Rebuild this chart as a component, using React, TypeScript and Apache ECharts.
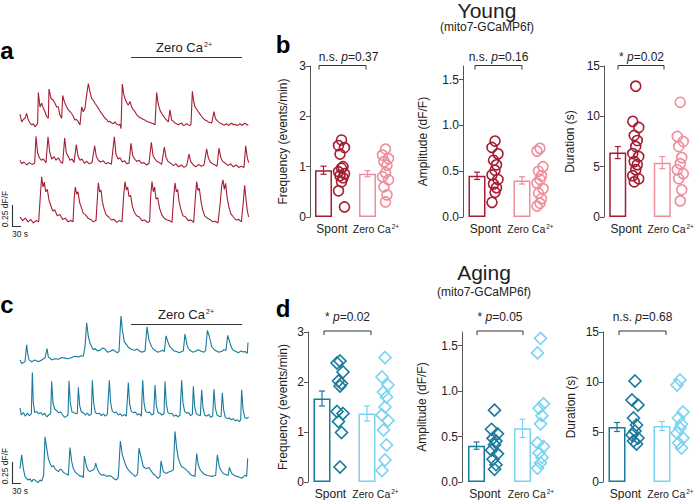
import React, { useEffect, useRef } from 'react';
import * as echarts from 'echarts';

const FONT = '"Liberation Sans", Arial, Helvetica, sans-serif';

const categories = ['Spont', 'Zero Ca2+'];

// ---- Traces: [time (s), dF/F] ----
const traceYoung1 = [[0,0.21],[5,0.08],[10,0.12],[15,0.14],[20,0.22],[25,0.11],[30,0.06],[35,0.03],[40,0.05],[45,0.0],[50,0.03],[53,0.06],[55,0.57],[60,0.33],[65,0.39],[70,0.31],[75,0.25],[80,0.17],[85,0.14],[87,0.63],[93,0.47],[100,0.44],[105,0.39],[110,0.33],[115,0.33],[120,0.19],[125,0.14],[128,0.52],[133,0.42],[140,0.33],[145,0.28],[150,0.25],[155,0.22],[160,0.17],[165,0.11],[170,0.12],[175,0.08],[180,0.03],[185,0.33],[190,0.25],[195,0.31],[200,0.53],[205,0.72],[210,0.58],[215,0.47],[220,0.44],[225,0.39],[230,0.35],[235,0.31],[240,0.26],[245,0.22],[250,0.18],[255,0.14],[260,0.12],[265,0.08],[270,0.09],[275,0.06],[280,0.05],[285,0.08],[290,0.04],[295,0.03],[300,0.04],[303,-0.03],[307,0.71],[311,0.55],[315,0.47],[320,0.4],[325,0.36],[330,0.42],[335,0.33],[340,0.28],[345,0.25],[350,0.2],[355,0.17],[360,0.15],[365,0.14],[370,0.12],[375,0.11],[380,0.09],[385,0.08],[390,0.07],[395,0.06],[400,0.05],[405,0.03],[410,0.57],[414,0.4],[417,0.33],[421,0.26],[425,0.22],[430,0.18],[435,0.14],[440,0.11],[445,0.08],[450,0.28],[455,0.11],[460,0.09],[465,0.06],[470,0.05],[475,0.03],[480,0.05],[485,0.06],[490,0.02],[495,0.03],[500,0.05],[505,0.03],[510,0.02],[513,0.04],[517,0.59],[521,0.42],[525,0.33],[530,0.29],[535,0.25],[540,0.21],[545,0.17],[550,0.14],[555,0.11],[560,0.1],[565,0.08],[570,0.07],[575,0.06],[582,0.25],[586,0.14],[590,0.11],[595,0.08],[600,0.06],[605,0.05],[610,0.03],[615,0.03],[620,0.05],[625,0.02],[630,0.04],[635,0.06],[640,0.03],[645,0.04],[650,0.02],[655,0.03],[660,0.05],[665,0.02],[670,0.04],[675,0.06],[680,0.03],[685,0.03]];

const traceYoung2 = [[0,0.08],[5,0.02],[12,0.05],[20,0.0],[28,0.04],[36,0.01],[44,0.03],[48,0.48],[53,0.2],[58,0.12],[64,0.08],[70,0.1],[78,0.04],[84,0.47],[89,0.22],[95,0.1],[102,0.14],[108,0.08],[115,0.12],[122,0.05],[128,0.03],[134,0.45],[139,0.2],[145,0.14],[150,0.08],[156,0.1],[162,0.04],[169,0.34],[174,0.15],[180,0.08],[186,0.1],[193,0.03],[200,0.06],[208,0.02],[216,0.04],[224,0.32],[229,0.14],[235,0.08],[242,0.05],[250,0.07],[258,0.02],[266,0.04],[274,0.01],[283,0.47],[288,0.18],[294,0.1],[300,0.12],[307,0.05],[314,0.07],[321,0.02],[327,0.03],[333,0.36],[338,0.16],[344,0.1],[350,0.06],[357,0.08],[364,0.03],[372,0.04],[380,0.0],[387,0.03],[394,0.38],[399,0.16],[405,0.1],[411,0.06],[418,0.04],[425,0.01],[433,0.3],[438,0.13],[444,0.06],[452,0.03],[460,-0.01],[468,0.02],[476,-0.03],[484,0.0],[492,-0.04],[500,-0.01],[507,0.18],[512,0.06],[520,0.0],[528,-0.03],[536,0.01],[544,-0.02],[552,0.0],[560,0.27],[565,0.12],[571,0.05],[578,0.02],[585,0.0],[591,-0.02],[597,0.28],[602,0.13],[608,0.06],[616,0.03],[624,-0.01],[632,0.02],[640,-0.03],[648,0.0],[656,-0.04],[664,-0.02],[672,-0.04],[677,0.32],[682,0.12],[686,0.04]];

const traceYoung3 = [[0,0.1],[8,0.04],[16,0.08],[24,0.02],[32,0.06],[40,0.0],[48,0.04],[56,0.02],[61,0.45],[65,0.77],[69,0.6],[73,0.68],[77,0.52],[82,0.56],[87,0.38],[92,0.3],[98,0.2],[104,0.22],[112,0.12],[120,0.14],[128,0.06],[136,0.08],[144,0.02],[152,0.04],[159,0.02],[163,0.45],[166,0.6],[170,0.48],[174,0.52],[179,0.34],[184,0.26],[190,0.16],[196,0.14],[204,0.08],[212,0.06],[220,0.02],[228,0.04],[232,0.4],[235,0.67],[239,0.52],[243,0.55],[247,0.36],[252,0.24],[258,0.14],[266,0.1],[274,0.05],[282,0.06],[290,0.01],[298,0.04],[306,0.02],[311,0.45],[315,0.69],[319,0.55],[323,0.6],[327,0.44],[332,0.46],[337,0.28],[343,0.18],[350,0.12],[358,0.1],[366,0.04],[374,0.05],[382,0.01],[389,0.03],[392,0.45],[396,0.69],[400,0.52],[404,0.6],[408,0.4],[413,0.42],[419,0.24],[425,0.14],[433,0.08],[441,0.05],[449,0.04],[456,0.01],[461,0.42],[465,0.67],[469,0.52],[473,0.56],[477,0.36],[483,0.22],[489,0.12],[497,0.1],[505,0.04],[513,0.05],[521,0.01],[526,0.42],[530,0.69],[534,0.54],[538,0.58],[543,0.36],[548,0.22],[554,0.12],[562,0.08],[570,0.06],[578,0.02],[586,0.03],[594,0.0],[601,0.35],[605,0.62],[609,0.72],[613,0.56],[617,0.66],[621,0.44],[626,0.28],[632,0.16],[640,0.1],[648,0.05],[656,0.06],[664,0.02],[670,0.35],[674,0.63],[678,0.4],[682,0.2],[686,0.1]];

const traceAging1 = [[0,0.03],[5,-0.03],[15,0],[20,0.28],[23,0.14],[27,0.03],[35,0],[45,0.03],[55,0],[65,0.03],[75,0.06],[81,0.22],[85,0.08],[95,0.03],[105,0.05],[115,0.04],[125,0.07],[135,0.06],[145,0.05],[155,0.07],[165,0.09],[175,0.08],[183,0.1],[190,0.09],[195,0.25],[200,0.65],[205,0.42],[210,0.31],[215,0.25],[220,0.2],[225,0.22],[232,0.18],[240,0.19],[248,0.23],[255,0.21],[262,0.16],[270,0.17],[278,0.2],[285,0.18],[291,0.15],[297,0.17],[301,0.58],[303,0.76],[307,0.53],[313,0.33],[320,0.28],[325,0.24],[330,0.22],[338,0.2],[345,0.19],[352,0.21],[360,0.17],[368,0.16],[375,0.18],[381,0.58],[387,0.36],[395,0.25],[400,0.21],[405,0.19],[412,0.16],[420,0.17],[427,0.19],[433,0.17],[438,0.43],[445,0.31],[450,0.25],[455,0.22],[462,0.18],[470,0.17],[478,0.15],[485,0.17],[490,0.18],[495,0.46],[501,0.28],[505,0.22],[510,0.19],[518,0.16],[525,0.17],[535,0.2],[545,0.17],[552,0.16],[557,0.19],[562,0.52],[568,0.42],[575,0.25],[580,0.22],[585,0.19],[595,0.16],[605,0.17],[612,0.2],[618,0.19],[623,0.44],[630,0.31],[635,0.23],[640,0.19],[648,0.17],[655,0.15],[663,0.18],[670,0.16],[675,0.17],[682,0.14],[684,0.32]];

const traceAging2 = [[0,0.12],[4,0.0],[10,0.04],[16,-0.02],[22,0.03],[28,-0.01],[34,0.02],[37,0.71],[40,0.2],[44,0.04],[50,0.06],[56,0.02],[62,0.04],[68,0.0],[74,0.03],[80,-0.03],[86,0.0],[92,0.02],[95,0.56],[99,0.2],[104,0.1],[110,0.07],[116,0.04],[122,0.05],[128,0.0],[134,-0.04],[140,-0.02],[144,0.0],[147,0.57],[151,0.2],[156,0.05],[162,0.04],[168,0.02],[172,0.03],[175,0.46],[179,0.16],[184,0.05],[190,0.04],[196,0.0],[202,0.03],[208,-0.01],[214,0.02],[217,0.58],[221,0.2],[226,0.04],[232,0.02],[238,0.03],[244,-0.01],[250,0.02],[256,-0.02],[262,0.01],[268,0.58],[272,0.2],[277,0.06],[283,0.04],[289,0.05],[295,0.0],[301,0.02],[307,-0.02],[313,0.01],[319,-0.02],[325,0.54],[329,0.18],[334,0.06],[340,0.04],[346,0.05],[352,0.0],[358,0.02],[364,-0.02],[368,0.58],[372,0.2],[377,0.06],[383,0.04],[389,0.05],[395,0.0],[401,0.02],[405,0.5],[409,0.16],[414,0.04],[420,0.03],[426,0.0],[432,0.02],[435,0.56],[439,0.18],[444,0.04],[450,0.02],[456,0.03],[462,-0.02],[468,0.0],[474,-0.03],[480,0.0],[485,0.58],[489,0.2],[494,0.06],[500,0.03],[506,0.04],[512,-0.01],[517,0.01],[520,0.48],[524,0.14],[529,0.02],[535,0.0],[541,-0.01],[545,0.42],[549,0.12],[554,0.0],[560,-0.02],[566,0.01],[572,-0.04],[578,-0.02],[582,0.43],[586,0.12],[591,0.0],[597,-0.02],[603,-0.03],[607,0.37],[611,0.08],[616,-0.04],[622,-0.06],[628,-0.05],[634,-0.08],[640,-0.06],[646,-0.1],[652,-0.08],[658,-0.11],[662,-0.08],[665,0.42],[669,0.1],[674,-0.04],[680,-0.06],[686,-0.03]];

const traceAging3 = [[0,0.19],[5,0.42],[10,0.19],[15,0.06],[20,0.02],[25,0],[30,0.02],[35,-0.03],[40,0.01],[45,0],[50,-0.03],[55,-0.04],[60,0.0],[65,-0.02],[71,0.08],[75,0.72],[80,0.53],[85,0.36],[90,0.28],[95,0.22],[100,0.24],[105,0.19],[110,0.16],[115,0.14],[120,0.18],[125,0.17],[130,0.13],[135,0.11],[140,0.1],[145,0.08],[150,0.54],[155,0.31],[160,0.19],[165,0.14],[170,0.11],[175,0.09],[180,0.06],[185,0.07],[190,0.04],[193,0.4],[200,0.22],[205,0.16],[210,0.14],[215,0.16],[220,0.17],[224,0.2],[227,0.28],[233,0.17],[239,0.11],[245,0.08],[252,0.09],[260,0.06],[267,0.07],[275,0.06],[282,0.02],[290,0.0],[295,0.06],[297,0.25],[301,0.65],[307,0.42],[315,0.28],[320,0.21],[325,0.17],[330,0.14],[335,0.11],[340,0.09],[345,0.06],[350,0.08],[353,0.11],[357,0.53],[363,0.39],[370,0.22],[375,0.2],[380,0.19],[387,0.21],[392,0.16],[395,0.14],[400,0.1],[405,0.08],[410,0.05],[415,0.03],[420,0.06],[423,0.32],[430,0.14],[435,0.12],[440,0.11],[445,0.13],[450,0.14],[455,0.15],[460,0.17],[465,0.81],[470,0.53],[475,0.36],[480,0.28],[485,0.22],[490,0.21],[495,0.19],[500,0.16],[505,0.14],[510,0.1],[515,0.08],[520,0.07],[525,0.06],[530,0.44],[535,0.25],[540,0.18],[545,0.14],[552,0.1],[560,0.08],[567,0.07],[575,0.06],[582,0.07],[587,0.08],[592,0.42],[598,0.22],[604,0.15],[610,0.11],[617,0.09],[625,0.08],[628,0.21],[635,0.11],[642,0.08],[650,0.06],[657,0.05],[665,0.03],[670,0.05],[675,0.08],[680,0.06],[683,0.36]];

// ---- Summary data (Young) ----
const youngFreqSpont = [1.53, 1.42, 1.38, 1.25, 1.0, 0.97, 0.9, 0.86, 0.82, 0.78, 0.7, 0.52, 0.2];
const youngFreqZero = [1.35, 1.23, 1.16, 1.1, 1.03, 0.88, 0.8, 0.74, 0.6, 0.44, 0.3];
const youngFreqMean = [0.93, 0.86];
const youngFreqSem = [0.08, 0.06];

const youngAmpSpont = [0.83, 0.76, 0.69, 0.62, 0.57, 0.51, 0.46, 0.41, 0.36, 0.32, 0.27, 0.16];
const youngAmpZero = [0.75, 0.72, 0.55, 0.5, 0.45, 0.41, 0.37, 0.31, 0.26, 0.2, 0.15, 0.12];
const youngAmpMean = [0.45, 0.4];
const youngAmpSem = [0.04, 0.04];

const youngDurSpont = [13.0, 9.5, 8.9, 8.1, 7.6, 7.0, 6.3, 6.0, 5.5, 5.2, 4.7, 4.1, 3.8, 3.5];
const youngDurZero = [11.4, 8.0, 7.5, 7.0, 5.9, 5.3, 4.7, 4.3, 3.8, 2.7, 1.6];
const youngDurMean = [6.4, 5.4];
const youngDurSem = [0.6, 0.6];

// ---- Summary data (Aging) ----
const agingFreqSpont = [2.42, 2.38, 2.2, 2.02, 1.97, 1.92, 1.41, 1.37, 1.21, 0.99, 0.3];
const agingFreqZero = [2.49, 2.1, 1.94, 1.8, 1.7, 1.5, 1.34, 1.23, 1.04, 0.74, 0.44, 0.23];
const agingFreqMean = [1.67, 1.37];
const agingFreqSem = [0.15, 0.15];

const agingAmpSpont = [0.79, 0.58, 0.53, 0.48, 0.45, 0.41, 0.35, 0.31, 0.25, 0.19, 0.14];
const agingAmpZero = [1.58, 1.42, 0.86, 0.81, 0.73, 0.64, 0.43, 0.39, 0.32, 0.27, 0.21, 0.15];
const agingAmpMean = [0.4, 0.59];
const agingAmpSem = [0.04, 0.1];

const agingDurSpont = [10.1, 8.2, 7.7, 6.4, 5.7, 5.1, 4.7, 4.4, 4.1, 3.8];
const agingDurZero = [10.2, 9.7, 7.0, 6.4, 5.8, 5.4, 4.9, 4.4, 3.9, 3.4];
const agingDurMean = [5.5, 5.6];
const agingDurSem = [0.45, 0.45];

const pYoung = ['0.37', '0.16', '0.02'];
const sigYoung = ['n.s.', 'n.s.', '*'];
const pAging = ['0.02', '0.05', '0.68'];
const sigAging = ['*', '*', 'n.s.'];

const freqTicks = [0, 1, 2, 3];
const ampTicks = [0, 0.5, 1.0, 1.5];
const durTicks = [0, 5, 10, 15];

const YOUNG = ['#A51D32', '#EF8E9B'];
const AGING = ['#197A9C', '#7AD3F2'];
const INK = '#222';
const AXIS = '#555';
// small horizontal spread of the dot columns (pixels), cycled
const SPREAD = [0, -3, 3, -1.5, 1.5];

function buildOption() {
  const grid: any[] = [];
  const xAxis: any[] = [];
  const yAxis: any[] = [];
  const series: any[] = [];

  const addTrace = (data: number[][], color: string, top: number, height: number, min: number, max: number) => {
    const i = grid.length;
    grid.push({ left: 20, top, width: 230, height, outerBoundsMode: 'none' });
    xAxis.push({ type: 'value', gridIndex: i, min: 0, max: 690, show: false });
    yAxis.push({ type: 'value', gridIndex: i, min, max, show: false });
    series.push({
      type: 'line', xAxisIndex: i, yAxisIndex: i, data, symbol: 'none', showSymbol: false,
      lineStyle: { color, width: 1.1 }, silent: true, clip: false,
    });
  };

  addTrace(traceYoung1, YOUNG[0], 78.7, 54, -0.1, 0.8);
  addTrace(traceYoung2, YOUNG[0], 129, 42, -0.1, 0.6);
  addTrace(traceYoung3, YOUNG[0], 172, 57, -0.1, 0.85);
  addTrace(traceAging1, AGING[0], 310.7, 57, -0.1, 0.85);
  addTrace(traceAging2, AGING[0], 367, 60, -0.2, 0.8);
  addTrace(traceAging3, AGING[0], 429, 57, -0.1, 0.85);

  const addBars = (cfg: any) => {
    const i = grid.length;
    const colors = cfg.colors;
    grid.push({ left: cfg.left, top: cfg.top, width: cfg.width, height: cfg.height, outerBoundsMode: 'none' });
    xAxis.push({
      type: 'category', gridIndex: i, data: categories,
      axisLine: { show: false }, axisTick: { show: false }, splitLine: { show: false },
      axisLabel: {
        interval: 0, fontSize: 12, color: INK, fontFamily: FONT, margin: 6,
        formatter: (v: string) => (v === 'Zero Ca2+' ? '{z|Zero Ca}{sup|2+}' : v),
        rich: {
          z: { fontSize: 10.5, fontFamily: FONT, color: INK },
          sup: { fontSize: 6.5, fontFamily: FONT, color: INK, verticalAlign: 'top', padding: [0, 0, 0, 1] },
        },
      },
    });
    yAxis.push({
      type: 'value', gridIndex: i, min: 0, max: cfg.max,
      name: cfg.name, nameLocation: 'middle', nameGap: cfg.nameGap, nameRotate: 90,
      nameTextStyle: { fontSize: 12, color: INK, fontFamily: FONT },
      axisLine: { show: true, lineStyle: { color: AXIS, width: 1 } },
      axisTick: { show: true, length: 4, inside: false, lineStyle: { color: AXIS, width: 1 }, customValues: cfg.ticks },
      axisLabel: {
        customValues: cfg.ticks, fontSize: 12, color: INK, fontFamily: FONT, margin: 4,
        formatter: (v: number) => (cfg.decimals ? v.toFixed(1) : String(v)),
      },
      splitLine: { show: false },
    });
    series.push({
      type: 'bar', xAxisIndex: i, yAxisIndex: i, barWidth: 17, barGap: '0%', silent: true,
      data: cfg.means.map((m: number, k: number) => ({
        value: m, itemStyle: { color: '#ffffff', borderColor: colors[k], borderWidth: 1.5 },
      })),
    });
    series.push({ type: 'bar', xAxisIndex: i, yAxisIndex: i, barWidth: 17, barGap: '0%', silent: true, data: ['-', '-'] });
    series.push({
      type: 'custom', xAxisIndex: i, yAxisIndex: i, silent: true, z: 3,
      data: cfg.means.map((m: number, k: number) => [k, m, cfg.sems[k]]),
      renderItem: (params: any, api: any) => {
        const k = api.value(0);
        const m = api.value(1);
        const s = api.value(2);
        const hi = api.coord([k, m + s]);
        const lo = api.coord([k, m - s]);
        const x = hi[0] - 8.5;
        const st = { stroke: colors[k], lineWidth: 1.2 };
        return {
          type: 'group',
          children: [
            { type: 'line', shape: { x1: x, y1: hi[1], x2: x, y2: lo[1] }, style: st },
            { type: 'line', shape: { x1: x - 3, y1: hi[1], x2: x + 3, y2: hi[1] }, style: st },
            { type: 'line', shape: { x1: x - 3, y1: lo[1], x2: x + 3, y2: lo[1] }, style: st },
          ],
        };
      },
    });
    cfg.points.forEach((pts: number[], k: number) => {
      series.push({
        type: 'scatter', xAxisIndex: i, yAxisIndex: i, silent: true, z: 4,
        symbol: cfg.symbol, symbolSize: cfg.symbolSize,
        data: pts.map((v, j) => ({ value: [k, v], symbolOffset: [9.5 + SPREAD[j % SPREAD.length], 0] })),
        itemStyle: { color: 'rgba(255,255,255,0)', borderColor: colors[k], borderWidth: 1.6, opacity: 1 },
      });
    });
  };

  const yTop = 66, yH = 151, aTop = 332, aH = 150;
  addBars({ left: 310, top: yTop, width: 88, height: yH, max: 3, ticks: freqTicks, name: 'Frequency (events/min)', nameGap: 21, colors: YOUNG, means: youngFreqMean, sems: youngFreqSem, points: [youngFreqSpont, youngFreqZero], symbol: 'circle', symbolSize: 10 });
  addBars({ left: 463, top: yTop, width: 90, height: yH, max: 1.65, ticks: ampTicks, decimals: true, name: 'Amplitude (dF/F)', nameGap: 34, colors: YOUNG, means: youngAmpMean, sems: youngAmpSem, points: [youngAmpSpont, youngAmpZero], symbol: 'circle', symbolSize: 10 });
  addBars({ left: 604, top: yTop, width: 89, height: yH, max: 15, ticks: durTicks, name: 'Duration (s)', nameGap: 28, colors: YOUNG, means: youngDurMean, sems: youngDurSem, points: [youngDurSpont, youngDurZero], symbol: 'circle', symbolSize: 10 });
  addBars({ left: 308, top: aTop, width: 90, height: aH, max: 3, ticks: freqTicks, name: 'Frequency (events/min)', nameGap: 19, colors: AGING, means: agingFreqMean, sems: agingFreqSem, points: [agingFreqSpont, agingFreqZero], symbol: 'diamond', symbolSize: 12 });
  addBars({ left: 462, top: aTop, width: 92, height: aH, max: 1.65, ticks: ampTicks, decimals: true, name: 'Amplitude (dF/F)', nameGap: 34, colors: AGING, means: agingAmpMean, sems: agingAmpSem, points: [agingAmpSpont, agingAmpZero], symbol: 'diamond', symbolSize: 12 });
  addBars({ left: 603, top: aTop, width: 90, height: aH, max: 15, ticks: durTicks, name: 'Duration (s)', nameGap: 26, colors: AGING, means: agingDurMean, sems: agingDurSem, points: [agingDurSpont, agingDurZero], symbol: 'diamond', symbolSize: 12 });

  // ---- graphic annotations ----
  const g: any[] = [];
  const text = (x: number, y: number, t: string, size: number, extra: any = {}, elProps: any = {}) => {
    g.push({
      type: 'text', x, y, silent: true, ...elProps,
      style: {
        text: t, fontSize: size, fontFamily: FONT, fill: INK,
        align: 'center', verticalAlign: 'middle', textAlign: 'center', textVerticalAlign: 'middle',
        ...extra,
      },
    });
  };
  const line = (pts: number[][], w = 1, color = '#333') => {
    g.push({ type: 'polyline', silent: true, shape: { points: pts }, style: { stroke: color, lineWidth: w, fill: null } });
  };
  const supRich = { sup: { fontSize: 7, fontFamily: FONT, fill: INK, verticalAlign: 'top', padding: [0, 0, 0, 1] } };
  const italicRich = { i: { fontSize: 12, fontFamily: FONT, fill: INK, fontStyle: 'italic' } };

  // panel letters
  text(7, 50, 'a', 24, { fontWeight: 'bold', fill: '#000' });
  text(283, 44.5, 'b', 24, { fontWeight: 'bold', fill: '#000' });
  text(7, 304, 'c', 24, { fontWeight: 'bold', fill: '#000' });
  text(283, 308.5, 'd', 24, { fontWeight: 'bold', fill: '#000' });

  // titles
  text(487, 10, 'Young', 21);
  text(487, 27, '(mito7-GCaMP6f)', 12);
  text(484, 272, 'Aging', 21);
  text(484, 292, '(mito7-GCaMP6f)', 12);

  // Zero Ca2+ bars over traces
  text(184, 47, 'Zero Ca{sup|2+}', 13, { rich: supRich });
  line([[131, 57.5], [242, 57.5]], 1.2);
  text(186, 314, 'Zero Ca{sup|2+}', 13, { rich: supRich });
  line([[131, 324.5], [242, 324.5]], 1.2);

  // scale bars
  line([[12.5, 205], [12.5, 226.5], [21, 226.5]], 1.1);
  text(4.5, 209, '0.25 dF/F', 8.5, {}, { rotation: Math.PI / 2 });
  text(12, 234, '30 s', 8.5, { align: 'left', textAlign: 'left' });
  line([[12.5, 462], [12.5, 483.5], [21, 483.5]], 1.1);
  text(4.5, 466, '0.25 dF/F', 8.5, {}, { rotation: Math.PI / 2 });
  text(12, 491, '30 s', 8.5, { align: 'left', textAlign: 'left' });

  // significance brackets
  const bracket = (x1: number, x2: number, y: number) => line([[x1, y + 4], [x1, y], [x2, y], [x2, y + 4]], 1);
  const yB = [[319, 366, 348.5], [475, 522, 498.5], [618, 664, 641.5]];
  yB.forEach((b, k) => {
    bracket(b[0], b[1], 65.5);
    text(b[2], 57, `${sigYoung[k]} {i|p}=${pYoung[k]}`, 12, { rich: italicRich });
  });
  const aB = [[324, 371, 347.5], [477, 523, 500], [619, 666, 642.5]];
  aB.forEach((b, k) => {
    bracket(b[0], b[1], 331);
    text(b[2], 317, `${sigAging[k]} {i|p}=${pAging[k]}`, 12, { rich: italicRich });
  });

  return {
    animation: false,
    backgroundColor: '#ffffff',
    textStyle: { fontFamily: FONT },
    grid, xAxis, yAxis, series,
    graphic: { elements: g },
  };
}

export default function App() {
  const ref = useRef<HTMLDivElement>(null);
  useEffect(() => {
    if (!ref.current) return;
    const chart = echarts.init(ref.current, undefined, { renderer: 'svg' });
    chart.setOption(buildOption() as any);
    return () => chart.dispose();
  }, []);
  return (
    <div
      ref={ref}
      style={{ position: 'absolute', left: 0, top: 0, width: 698, height: 500, background: '#fff' }}
    />
  );
}
